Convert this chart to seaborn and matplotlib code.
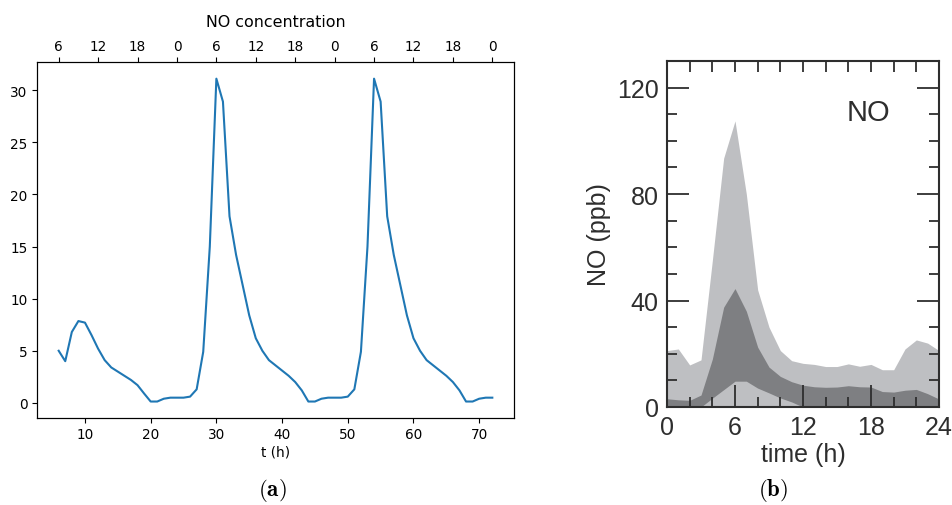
import matplotlib
matplotlib.use('Agg')
import matplotlib.pyplot as plt
import seaborn as sns

# panel (a): model NO concentration, hourly
t_hours = list(range(6, 73))
no_model = [5.0, 4.0, 6.8, 7.85, 7.7, 6.5, 5.2, 4.1, 3.4, 3.0, 2.6, 2.2, 1.7, 0.9, 0.13, 0.13, 0.4, 0.5,
            0.5, 0.5, 0.6, 1.3, 4.9, 15.0, 31.1, 28.9, 17.9, 14.2, 11.3, 8.4, 6.2, 5.0, 4.1, 3.6, 3.1, 2.6, 2.0, 1.2, 0.13, 0.13, 0.4, 0.5,
            0.5, 0.5, 0.6, 1.3, 4.9, 15.0, 31.1, 28.9, 17.9, 14.2, 11.3, 8.4, 6.2, 5.0, 4.1, 3.6, 3.1, 2.6, 2.0, 1.2, 0.13, 0.13, 0.4, 0.5, 0.5]
top_ticks = [6, 12, 18, 24, 30, 36, 42, 48, 54, 60, 66, 72]
top_labels = ['6', '12', '18', '0', '6', '12', '18', '0', '6', '12', '18', '0']

# panel (b): observed NO diurnal spread (ppb)
hour_b = list(range(0, 25))
no_outer_high = [21.2, 21.8, 15.8, 17.7, 55.0, 93.5, 107.5, 80.0, 44.0, 30.0, 21.2, 17.4, 16.4,
                 16.0, 15.2, 15.2, 16.2, 15.3, 16.0, 14.0, 14.0, 21.8, 25.2, 24.0, 21.2]
no_inner_high = [3.1, 2.7, 2.5, 4.5, 18.0, 37.5, 44.5, 36.0, 22.5, 15.0, 11.5, 9.5, 8.2,
                 7.6, 7.4, 7.5, 8.0, 7.6, 7.5, 5.8, 5.6, 6.3, 6.6, 5.0, 3.0]
no_inner_low = [0.0, 0.0, 0.0, 0.0, 3.3, 6.5, 9.7, 9.7, 7.1, 5.3, 3.4, 1.9, 0.0,
                0.0, 0.0, 0.0, 0.0, 0.0, 0.0, 0.0, 0.0, 0.0, 0.0, 0.0, 0.0]

plt.rcParams['mathtext.fontset'] = 'cm'

fig = plt.figure(figsize=(9.52, 5.06), dpi=100)

# ---- (a)
axa = fig.add_axes([37 / 952, 1 - 419 / 506, 477 / 952, 356 / 506])
sns.lineplot(x=t_hours, y=no_model, ax=axa, color='#1f77b4', linewidth=1.5)
axa.set_xlim(2.7, 75.3)
axa.set_ylim(-1.45, 32.7)
axa.set_yticks([0, 5, 10, 15, 20, 25, 30])
axa.set_xticks([10, 20, 30, 40, 50, 60, 70])
axa.tick_params(labelsize=9.8, length=3.3)
axa.set_xlabel('t (h)', fontsize=9.8, labelpad=2)

top = axa.twiny()
top.set_xlim(axa.get_xlim())
top.set_xticks(top_ticks)
top.set_xticklabels(top_labels)
top.tick_params(labelsize=9.8, length=3.3)
top.set_title('NO concentration', fontsize=11.4, pad=9)

# ---- (b)
ink = '#2e2e2e'
bfont = ['Liberation Sans', 'DejaVu Sans']
axb = fig.add_axes([667 / 952, 1 - 408 / 506, 272 / 952, 346 / 506])
axb.fill_between(hour_b, 0, no_outer_high, color='#bebfc2', lw=0)
axb.fill_between(hour_b, no_inner_low, no_inner_high, color='#7e7f82', lw=0)
axb.set_xlim(0, 24)
axb.set_ylim(0, 130)
axb.set_xticks([0, 6, 12, 18, 24])
axb.set_xticks(range(0, 25, 2), minor=True)
axb.set_yticks([0, 40, 80, 120])
axb.set_yticks(range(0, 131, 10), minor=True)
axb.tick_params(which='major', direction='in', length=15.5, width=1.3, color=ink,
                right=True, top=False, labelsize=18, labelcolor=ink, pad=6)
axb.tick_params(which='minor', direction='in', length=7.5, width=1.3, color=ink,
                right=True, top=False)
for lab in axb.get_xticklabels() + axb.get_yticklabels():
    lab.set_family(bfont)
for sp in axb.spines.values():
    sp.set_color(ink)
    sp.set_linewidth(1.5)

sec = axb.secondary_xaxis('top')
sec.set_xticks(range(0, 25, 2))
sec.set_xticklabels([])
sec.tick_params(direction='in', length=8, width=1.3, color=ink)
sec.spines['top'].set_visible(False)

axb.set_xlabel('time (h)', fontsize=18, color=ink, family=bfont, labelpad=2)
axb.set_ylabel('NO (ppb)', fontsize=18, color=ink, family=bfont, labelpad=4)
axb.text(17.8, 111, 'NO', fontsize=21, color=ink, family=bfont, ha='center', va='center')

fig.text(272.5 / 952, 1 - 491 / 506, r'$\mathbf{(a)}$', ha='center', va='center', fontsize=16.5)
fig.text(773 / 952, 1 - 491 / 506, r'$\mathbf{(b)}$', ha='center', va='center', fontsize=16.5)

fig.savefig('out.png', dpi=100)
